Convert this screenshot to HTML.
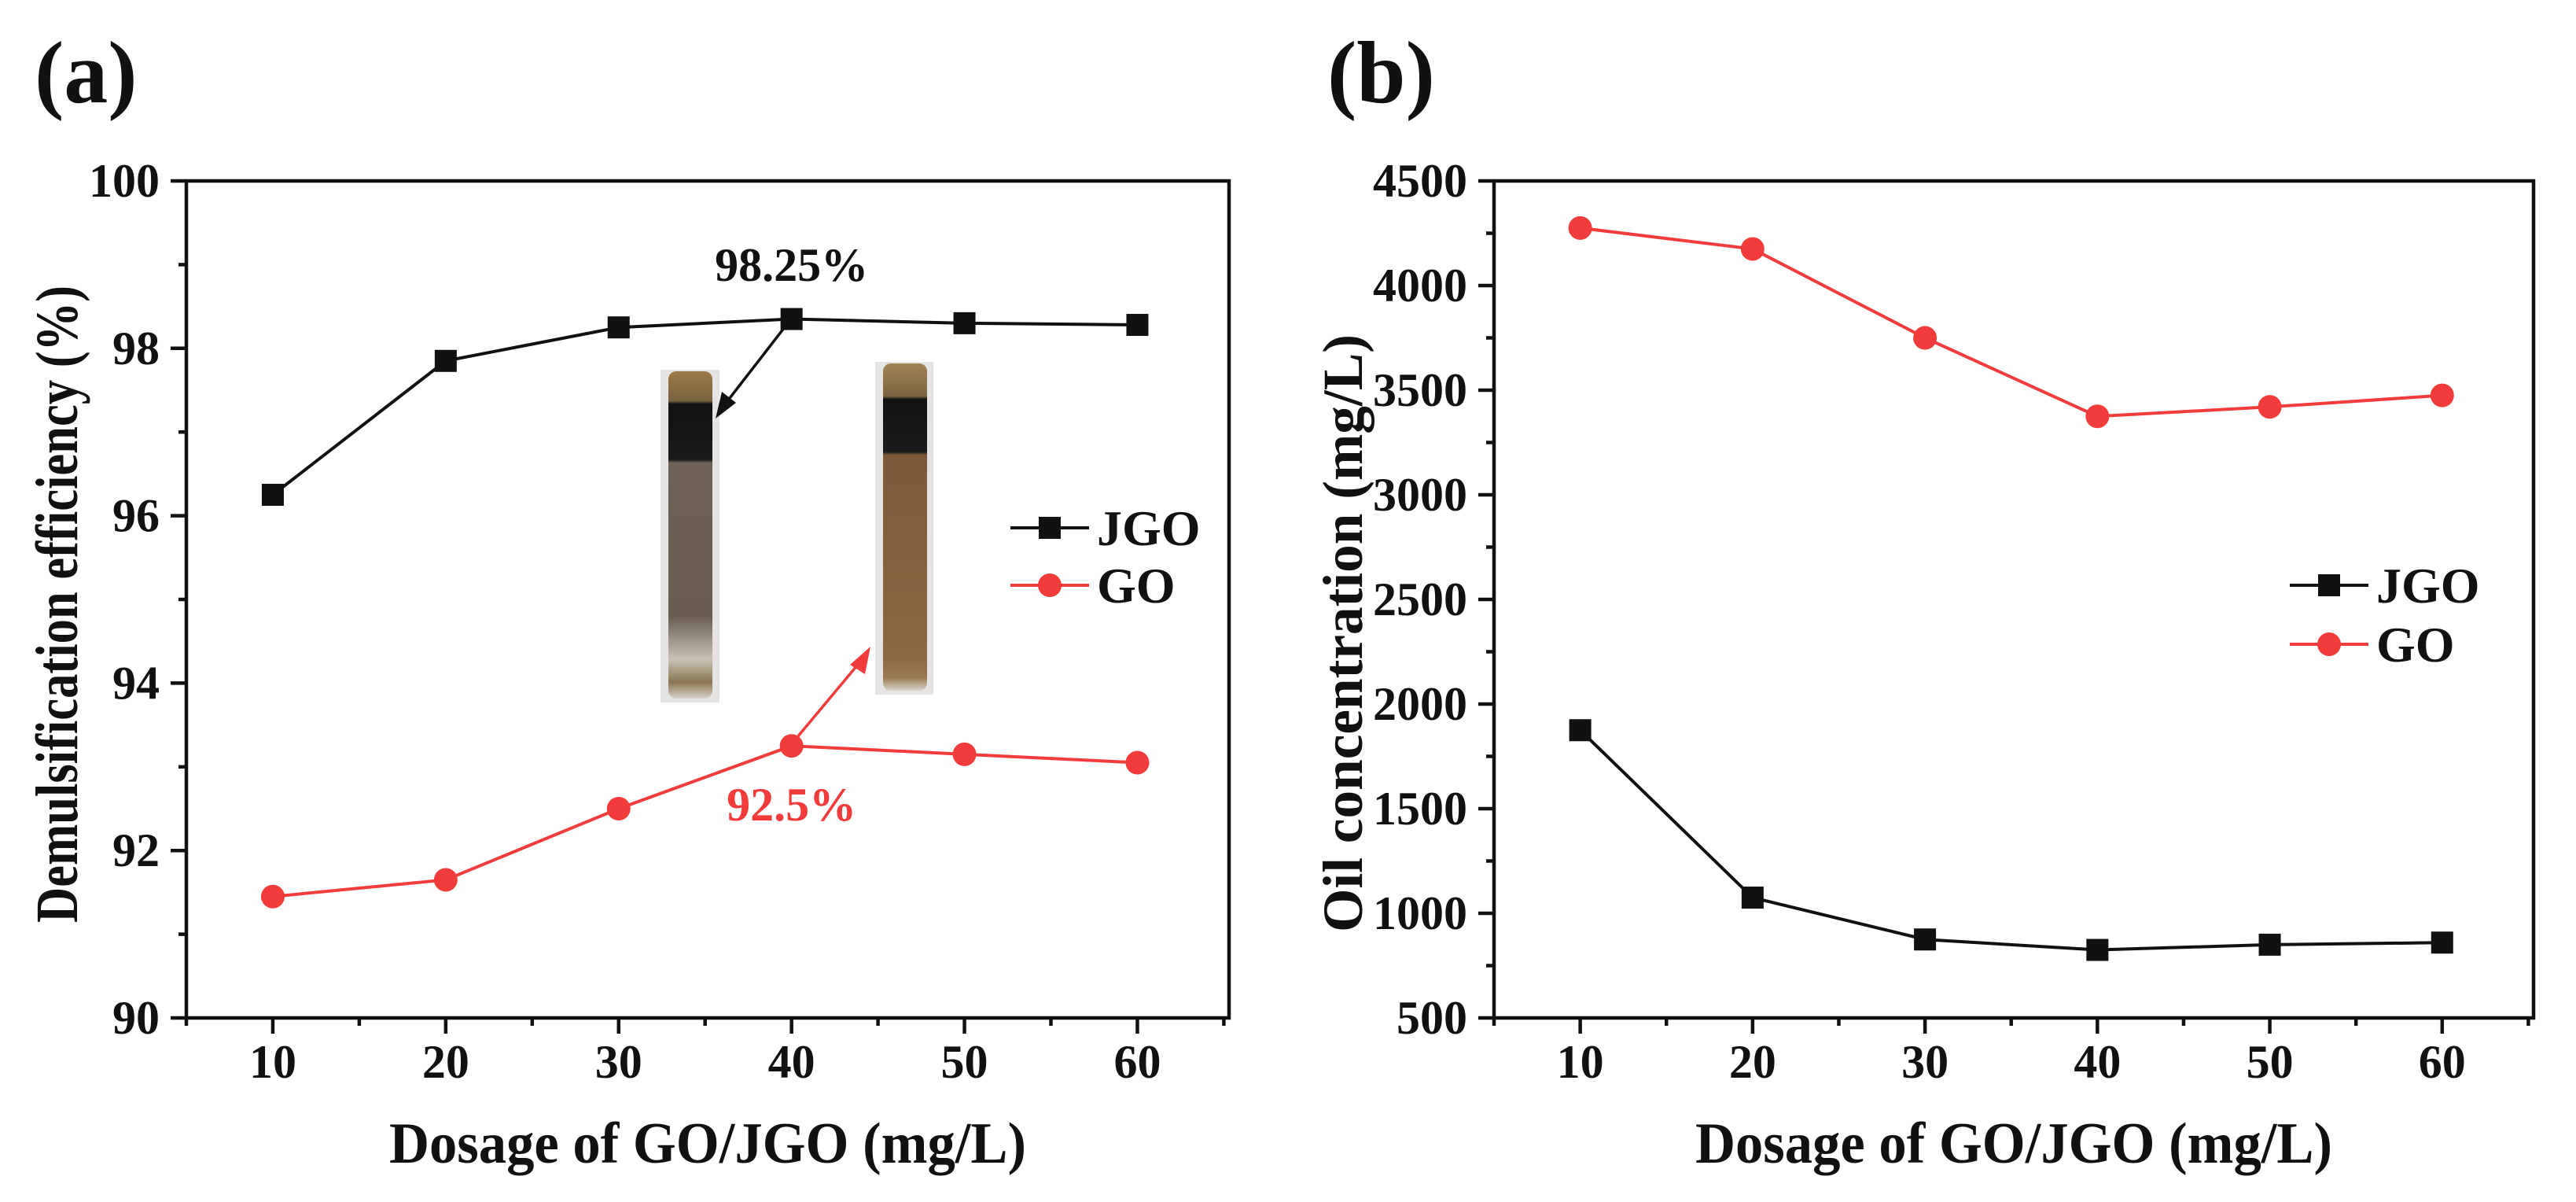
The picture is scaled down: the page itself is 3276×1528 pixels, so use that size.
<!DOCTYPE html>
<html><head><meta charset="utf-8"><style>
html,body{margin:0;padding:0;background:#fff;}
svg{display:block;font-family:"Liberation Serif",serif;font-weight:bold;}
</style></head><body>
<svg id="fig" width="3276" height="1528" viewBox="0 0 3276 1528" xmlns="http://www.w3.org/2000/svg">
<defs>
<linearGradient id="tube1" x1="0" y1="0" x2="0" y2="1">
<stop offset="0" stop-color="#9a7a45"/><stop offset="0.09" stop-color="#7a6440"/>
<stop offset="0.1" stop-color="#111"/><stop offset="0.27" stop-color="#1a1a1a"/>
<stop offset="0.28" stop-color="#6e6258"/><stop offset="0.75" stop-color="#6a5e52"/>
<stop offset="0.88" stop-color="#c8c2b8"/><stop offset="0.95" stop-color="#8a7550"/><stop offset="1" stop-color="#d8d4cc"/>
</linearGradient>
<linearGradient id="tube2" x1="0" y1="0" x2="0" y2="1">
<stop offset="0" stop-color="#a08454"/><stop offset="0.1" stop-color="#7a6440"/>
<stop offset="0.11" stop-color="#111"/><stop offset="0.27" stop-color="#1a1a1a"/>
<stop offset="0.28" stop-color="#7a5a38"/><stop offset="0.9" stop-color="#8a6a44"/>
<stop offset="0.96" stop-color="#9a7a52"/><stop offset="1" stop-color="#d8d4cc"/>
</linearGradient>
</defs>
<g id="layer"></g>
</svg>
<script>
// Panel (a) data
const xCats = [10, 20, 30, 40, 50, 60];
const effJGO = [96.25, 97.85, 98.25, 98.35, 98.30, 98.28];
const effGO = [91.45, 91.65, 92.50, 93.25, 93.15, 93.05];
const yTicksA = [90, 92, 94, 96, 98, 100];
// Panel (b) data
const oilGO = [4275, 4175, 3750, 3375, 3420, 3475];
const oilJGO = [1875, 1075, 875, 825, 850, 860];
const yTicksB = [500, 1000, 1500, 2000, 2500, 3000, 3500, 4000, 4500];
const xTicks = [10, 20, 30, 40, 50, 60];

const NS = "http://www.w3.org/2000/svg";
const layer = document.getElementById('layer');
function mk(tag, attrs, parent){ const e=document.createElementNS(NS,tag); for(const k in attrs) e.setAttribute(k,attrs[k]); (parent||layer).appendChild(e); return e; }
const RED = "#f23c3c";

function panel(cfg){
  const g = mk('g',{});
  
  
  const L=cfg.L,R=cfg.R,T=230,B=1294;
  const xs = v => L + (v-5)/(65.3-5)*(R-L);
  const ys = v => B - (v-cfg.ymin)/(cfg.ymax-cfg.ymin)*(B-T);
  const frame = mk('rect',{x:L,y:T,width:R-L,height:B-T,fill:'none',stroke:'#111','stroke-width':4.5},g);
  
  
  xTicks.forEach(v=>{
    mk('line',{x1:xs(v),x2:xs(v),y1:B,y2:B+20,stroke:'#111','stroke-width':4.5},g);
    mk('line',{x1:xs(v+5),x2:xs(v+5),y1:B,y2:B+10,stroke:'#111','stroke-width':4.5},g);
    const t = mk('text',{x:xs(v),y:1370,'text-anchor':'middle','font-size':60,fill:'#111'},g);
    t.textContent=v;
    
    
  });
  mk('line',{x1:xs(5),x2:xs(5),y1:B,y2:B+10,stroke:'#111','stroke-width':4.5},g);
  const yt = cfg.yticks; const step = yt[1]-yt[0];
  yt.forEach((v,i)=>{
    mk('line',{x1:L-20,x2:L,y1:ys(v),y2:ys(v),stroke:'#111','stroke-width':4.5},g);
    if(i<yt.length-1) mk('line',{x1:L-10,x2:L,y1:ys(v+step/2),y2:ys(v+step/2),stroke:'#111','stroke-width':4.5},g);
    const t = mk('text',{x:L-34,y:ys(v)+20,'text-anchor':'end','font-size':60,fill:'#111'},g);
    t.textContent=v;
    
    
  });
  cfg.series.forEach(s=>{
    const sg = mk('g',{},g);
    
    
    const pts = xCats.map((x,i)=>xs(x)+','+ys(s.vals[i])).join(' ');
    mk('polyline',{points:pts,fill:'none',stroke:s.color,'stroke-width':4},sg);
    xCats.forEach((x,i)=>{
      let m;
      if(s.shape==='sq') m = mk('rect',{x:xs(x)-14,y:ys(s.vals[i])-14,width:28,height:28,fill:s.color},sg);
      else m = mk('circle',{cx:xs(x),cy:ys(s.vals[i]),r:15,fill:s.color},sg);
      
      
    });
  });
  const lg = mk('g',{},g);
  
  
  cfg.series.forEach((s,i)=>{
    const y = cfg.legY[i];
    mk('line',{x1:cfg.legX,x2:cfg.legX+100,y1:y,y2:y,stroke:s.color,'stroke-width':4},lg);
    if(s.shape==='sq') mk('rect',{x:cfg.legX+50-14,y:y-14,width:28,height:28,fill:s.color},lg);
    else mk('circle',{cx:cfg.legX+50,cy:y,r:15,fill:s.color},lg);
    const t = mk('text',{x:cfg.legX+110,y:y+22,'font-size':64,fill:'#111'},lg);
    t.textContent=s.label;
    
    
  });
  const xt = mk('text',{x:(L+R)/2,y:1478,'text-anchor':'middle','font-size':74,fill:'#111',textLength:810,lengthAdjust:'spacingAndGlyphs'},g);
  xt.textContent='Dosage of GO/JGO (mg/L)';
  
  
  const ytl = mk('text',{x:0,y:0,'text-anchor':'middle','font-size':cfg.ytSize,fill:'#111',textLength:cfg.ytLen,lengthAdjust:'spacingAndGlyphs',transform:`translate(${cfg.ytX},${cfg.ytY}) rotate(-90)`},g);
  ytl.textContent=cfg.ytitle;
  
  
  const pl = mk('text',{x:cfg.plX,y:130,'font-size':112,fill:'#111'},g);
  pl.textContent=cfg.plabel;
  
  
  return {g,xs,ys};
}

const A = panel({name:'panel-a-demulsification',L:237,R:1563,ymin:90,ymax:100,yticks:yTicksA,
  series:[{name:'series-jgo',label:'JGO',vals:effJGO,color:'#111',shape:'sq'},{name:'series-go',label:'GO',vals:effGO,color:RED,shape:'ci'}],
  legX:1285,legY:[671,744],ytitle:'Demulsification efficiency (%)',ytX:98,ytY:768,ytLen:810,ytSize:76,plabel:'(a)',plX:44});
const Bp = panel({name:'panel-b-oil-concentration',L:1900,R:3222,ymin:500,ymax:4500,yticks:yTicksB,
  series:[{name:'series-jgo',label:'JGO',vals:oilJGO,color:'#111',shape:'sq'},{name:'series-go',label:'GO',vals:oilGO,color:RED,shape:'ci'}],
  legX:2912,legY:[744,819],ytitle:'Oil concentration (mg/L)',ytX:1732,ytY:805,ytLen:760,ytSize:72,plabel:'(b)',plX:1688});

const t1 = mk('g',{});


mk('rect',{x:840,y:470,width:75,height:423,fill:'#e6e4e2'},t1);
mk('rect',{x:850,y:472,width:56,height:416,rx:10,fill:'url(#tube1)'},t1);
const t2 = mk('g',{});


mk('rect',{x:1113,y:460,width:74,height:423,fill:'#e6e4e2'},t2);
mk('rect',{x:1123,y:462,width:56,height:416,rx:10,fill:'url(#tube2)'},t2);

const a1 = mk('text',{x:A.xs(40),y:357,'text-anchor':'middle','font-size':60,fill:'#111'});
a1.textContent='98.25%';


const a2 = mk('text',{x:A.xs(40),y:1043,'text-anchor':'middle','font-size':60,fill:RED});
a2.textContent='92.5%';


const ar1 = mk('g',{});


mk('line',{x1:A.xs(40)-10,y1:A.ys(effJGO[3])+12,x2:925,y2:510,stroke:'#111','stroke-width':3.5},ar1);
mk('polygon',{points:'910,532 918,498 936,512',fill:'#111'},ar1);
const ar2 = mk('g',{});


mk('line',{x1:A.xs(40)+8,y1:A.ys(effGO[3])-12,x2:1095,y2:840,stroke:RED,'stroke-width':3.5},ar2);
mk('polygon',{points:'1107,822 1100,857 1081,845',fill:RED},ar2);
</script>
</body></html>
